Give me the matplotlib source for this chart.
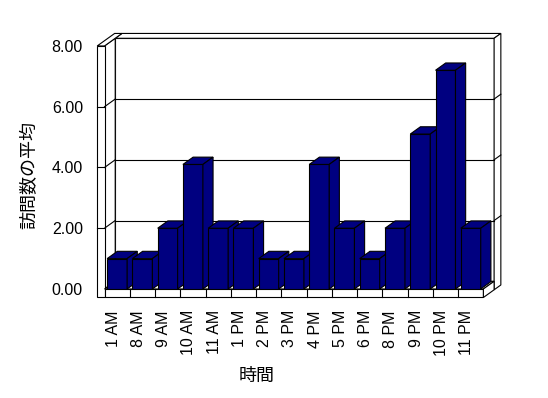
import matplotlib

matplotlib.use("Agg")
import matplotlib.pyplot as plt
import matplotlib.transforms as mtransforms
from matplotlib.patches import Polygon

plt.rcParams["font.family"] = ["Liberation Sans", "Noto Sans CJK JP", "DejaVu Sans"]

hours = ["1 AM", "8 AM", "9 AM", "10 AM", "11 AM", "1 PM", "2 PM", "3 PM",
         "4 PM", "5 PM", "6 PM", "8 PM", "9 PM", "10 PM", "11 PM"]
avg_visits = [1, 1, 2, 4.1, 2, 2, 1, 1, 4.1, 2, 1, 2, 5.1, 7.2, 2]
y_ticks = [0, 2, 4, 6, 8]
y_tick_labels = ["0.00", "2.00", "4.00", "6.00", "8.00"]
x_title = "時間"
y_title = "訪問数の平均"

NAVY = "#000080"
# oblique projection: one unit of depth -> (DX categories, DY value units)
DX, DY = 0.424, 0.253
WALL = 0.63    # back wall thickness (depth units)
SIDE = 0.29    # left wall thickness (categories)
FLOOR = 0.28   # floor thickness (value units)
BAR_W = 0.79
BAR_D = 0.95
LW = 0.8


def proj(x, y, z):
    return (x + DX * z, y + DY * z)


def face(ax, pts, fc="white", z=1.0):
    ax.add_patch(Polygon([proj(*p) for p in pts], closed=True, fc=fc, ec="black",
                         lw=LW, clip_on=False, zorder=z, joinstyle="miter"))


def line(ax, p0, p1, z=1.5):
    (x0, y0), (x1, y1) = proj(*p0), proj(*p1)
    ax.plot([x0, x1], [y0, y1], color="black", lw=LW, clip_on=False, zorder=z)


fig = plt.figure(figsize=(5.48, 3.98), dpi=100)
ax = fig.add_axes([0.1907, 0.2739, 0.6914, 0.6106])
ax.set_facecolor("none")
for s in ax.spines.values():
    s.set_visible(False)

n = len(hours)
xl, xr = -0.5, n - 0.5
top = y_ticks[-1]
zb = 1 + WALL

# back wall
face(ax, [(xl, 0, 1), (xr, 0, 1), (xr, top, 1), (xl, top, 1)])
face(ax, [(xl, top, 1), (xr, top, 1), (xr, top, zb), (xl, top, zb)])
face(ax, [(xr, -FLOOR, 1), (xr, -FLOOR, zb), (xr, top, zb), (xr, top, 1)])
# left wall
face(ax, [(xl, 0, 0), (xl, 0, 1), (xl, top, 1), (xl, top, 0)])
face(ax, [(xl - SIDE, top, 0), (xl, top, 0), (xl, top, zb), (xl - SIDE, top, zb)])
face(ax, [(xl - SIDE, -FLOOR, 0), (xl, -FLOOR, 0), (xl, top, 0), (xl - SIDE, top, 0)])
# floor
face(ax, [(xl, 0, 0), (xr, 0, 0), (xr, 0, 1), (xl, 0, 1)], z=1.2)
face(ax, [(xl, -FLOOR, 0), (xr, -FLOOR, 0), (xr, 0, 0), (xl, 0, 0)], z=1.2)
face(ax, [(xr, -FLOOR, 0), (xr, -FLOOR, 1), (xr, 0, 1), (xr, 0, 0)], z=1.2)

# gridlines on walls
for t in y_ticks[1:-1]:
    line(ax, (xl, t, 1), (xr, t, 1))
    line(ax, (xl, t, 0), (xl, t, 1))
    line(ax, (xl - SIDE, t, 0), (xl, t, 0))
    line(ax, (xr, t, 1), (xr, t, zb))
# category dividers on floor front
for i in range(n - 1):
    line(ax, (i + 0.5, -FLOOR, 0), (i + 0.5, 0, 0), z=1.3)

# bars: front via ax.bar, top and side as oblique faces
bars = ax.bar(range(n), avg_visits, width=BAR_W, color=NAVY, edgecolor="black",
              linewidth=LW)
for i, (patch, v) in enumerate(zip(bars, avg_visits)):
    zo = 3 + i
    patch.set_zorder(zo)
    x0, x1 = i - BAR_W / 2, i + BAR_W / 2
    face(ax, [(x0, v, 0), (x1, v, 0), (x1, v, BAR_D), (x0, v, BAR_D)], fc=NAVY, z=zo)
    face(ax, [(x1, 0, 0), (x1, 0, BAR_D), (x1, v, BAR_D), (x1, v, 0)], fc=NAVY, z=zo)

ax.set_xlim(xl, xr)
ax.set_ylim(0, top)
ax.set_yticks(y_ticks, y_tick_labels, fontsize=11.5)
ax.set_xticks(range(n), hours, rotation=90, fontsize=11.5)
ax.tick_params(axis="y", length=0, pad=15.5)
ax.tick_params(axis="x", length=0, pad=15.2)
# category labels sit a little left of the bar centres in the original
shift = mtransforms.ScaledTranslation(-4 / 100, 0, fig.dpi_scale_trans)
for lab in ax.get_xticklabels():
    lab.set_transform(lab.get_transform() + shift)

fig.text(29 / 548, 1 - 175 / 398, y_title, rotation=90, ha="center", va="center",
         fontsize=13, family=["Noto Sans CJK JP"])
fig.text(257 / 548, 1 - 376 / 398, x_title, ha="center", va="center",
         fontsize=13, family=["Noto Sans CJK JP"])

fig.savefig("out.png", dpi=100)
